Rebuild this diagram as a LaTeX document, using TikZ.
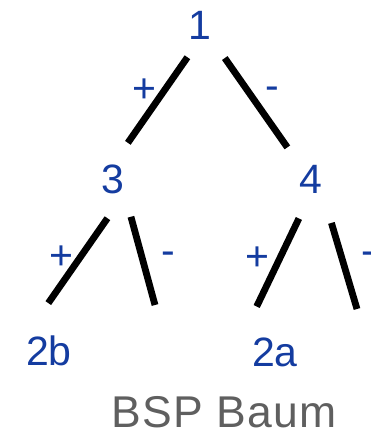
\documentclass[tikz,border=0pt]{standalone}
\usepackage{fontspec}
\setmainfont{Liberation Sans}
\newfontfamily\captionfont[LetterSpace=2.5]{Liberation Sans}
\usepackage{xcolor}
\usetikzlibrary{positioning}
\definecolor{treeblue}{RGB}{20,60,160}
\definecolor{captiongray}{RGB}{95,95,95}
\tikzset{
  key/.style={text=treeblue, font=\fontsize{41}{41}\selectfont, inner sep=0pt, anchor=base},
  sign/.style={text=treeblue, font=\fontsize{41}{41}\selectfont, inner sep=0pt, anchor=base},
  branch/.style={line width=6.8pt}
}

\begin{document}
\begin{tikzpicture}[x=1pt, y=-1pt]
        \useasboundingbox (0,0) rectangle (371,432);
        % keys of the tree
        \node (root) [key] at (200,39) {1};
        \node (left) [key] at (113,193) {3};
        \node (right) [key] at (311,193) {4};
        \node (leafB) [key] at (49,365) {2b};
        \node (leafA) [key] at (275,366) {2a};
        \coordinate (emptyL) at (155,305);
        \coordinate (emptyR) at (357,309);

        % signs of the half spaces
        \node (plusRoot) [sign] at (144,102) {+};
        \node (minusRoot) [sign] at (272,99) {-};
        \node (plusLeft) [sign] at (61,269) {+};
        \node (minusLeft) [sign] at (168,264) {-};
        \node (plusRight) [sign] at (257,270) {+};
        \node (minusRight) [sign] at (368,264) {-};

        \draw[branch, shorten <=22pt, shorten >=26pt] (root.south) -- (left.north);
        \draw[branch, shorten <=23pt, shorten >=21pt] (root.south east) -- (right.north west);
        \draw[branch, shorten <=30pt, shorten >=39pt] (left.south east) -- (leafB.north west);
        \draw[branch, shorten <=24pt] (left.south east) -- (emptyL);
        \draw[branch, shorten <=28pt, shorten >=34pt] (right.south) -- ([xshift=-10pt]leafA.north west);
        \draw[branch, shorten <=31pt] (right.south east) -- (emptyR);

        \node (caption) [text=captiongray, font=\captionfont\fontsize{44.5}{44.5}\selectfont, inner sep=0pt, anchor=base] at (224,427.5) {BSP Baum};
    \end{tikzpicture}
\end{document}
